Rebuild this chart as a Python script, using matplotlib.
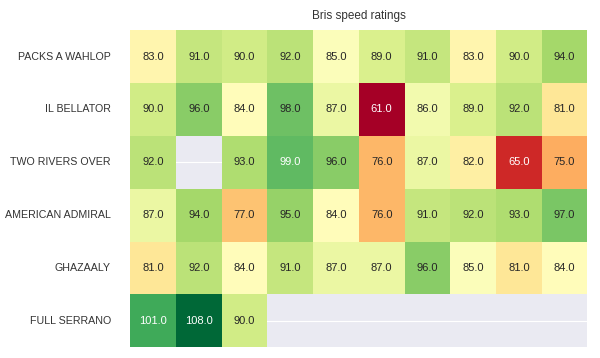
import numpy as np
import pandas as pd
import matplotlib
matplotlib.use("Agg")
import matplotlib.pyplot as plt
import seaborn as sns

horses = ["PACKS A WAHLOP", "IL BELLATOR", "TWO RIVERS OVER",
          "AMERICAN ADMIRAL", "GHAZAALY", "FULL SERRANO"]
nan = np.nan
packs = [83, 91, 90, 92, 85, 89, 91, 83, 90, 94]
bellator = [90, 96, 84, 98, 87, 61, 86, 89, 92, 81]
two_rivers = [92, nan, 93, 99, 96, 76, 87, 82, 65, 75]
admiral = [87, 94, 77, 95, 84, 76, 91, 92, 93, 97]
ghazaaly = [81, 92, 84, 91, 87, 87, 96, 85, 81, 84]
serrano = [101, 108, 90, nan, nan, nan, nan, nan, nan, nan]

sns.set_style("darkgrid")
plt.rcParams["font.family"] = ["Liberation Sans", "DejaVu Sans"]

df = pd.DataFrame([packs, bellator, two_rivers, admiral, ghazaaly, serrano], index=horses)

fig = plt.figure(figsize=(6.0, 3.58), dpi=100)
ax = fig.add_axes([0.217, 0.03, 0.762, 0.886])
sns.heatmap(df, ax=ax, cmap="RdYlGn", annot=True, fmt=".1f", cbar=False,
            xticklabels=False, annot_kws={"fontsize": 8})
ax.set_title("Bris speed ratings", fontsize=8.5, color="#333333", pad=8)
ax.tick_params(axis="y", length=0, labelsize=7.7, labelcolor="#333333", pad=14)
ax.set_yticklabels(horses, rotation=0)
ax.set_ylabel("")
fig.savefig("out.png", dpi=100)
